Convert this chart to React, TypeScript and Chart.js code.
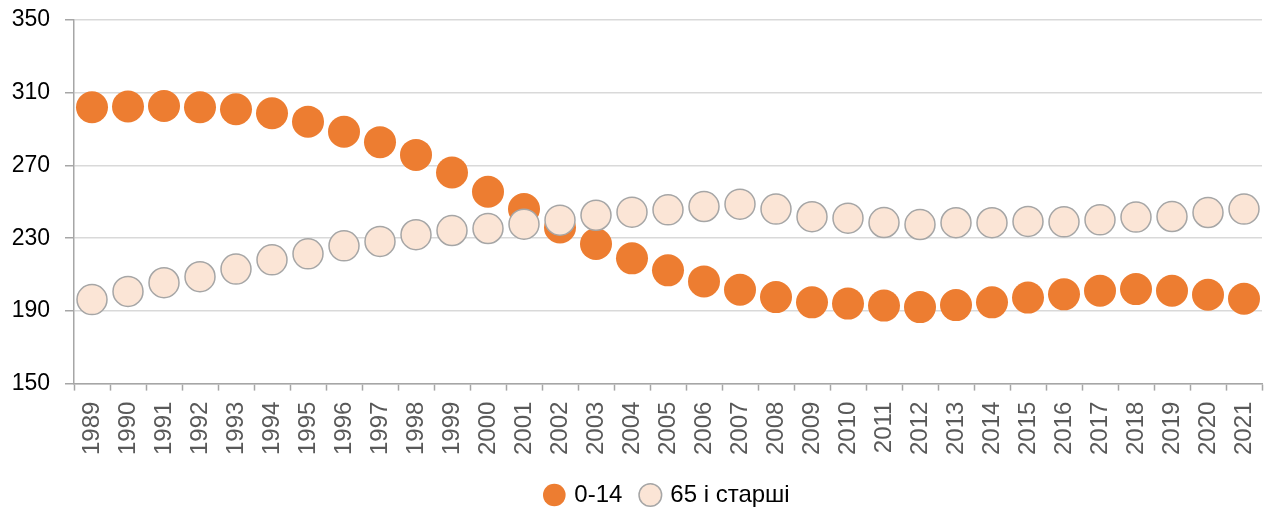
import React, { useEffect, useRef } from "react";
import { Chart, registerables } from "chart.js";

Chart.register(...registerables);

const years: string[] = [
  "1989","1990","1991","1992","1993","1994","1995","1996","1997","1998","1999",
  "2000","2001","2002","2003","2004","2005","2006","2007","2008","2009","2010",
  "2011","2012","2013","2014","2015","2016","2017","2018","2019","2020","2021",
];

const children014: number[] = [
  302, 302.4, 302.7, 302, 300.9, 298.7, 294.1, 288.5, 282.8, 275.8, 266.1,
  255.5, 246, 235.9, 226.8, 218.9, 212.3, 206.2, 201.6, 197.6, 194.7, 194,
  192.9, 192.1, 193.2, 194.7, 197.3, 199.1, 201.1, 202, 201.1, 198.9, 196.7,
];

const elderly65: number[] = [
  196.2, 200.7, 205.5, 208.8, 213, 218.1, 221.4, 225.8, 228.2, 231.9, 234.2,
  235.3, 237.7, 239.9, 242.6, 244.3, 245.6, 247.4, 248.7, 246, 241.8, 241,
  238.6, 237.5, 238.5, 238.5, 239.2, 239, 240.1, 241.6, 241.9, 244.1, 246,
];

const seriesNames: string[] = ["0-14", "65 і старші"];
const yMin = 150;
const yMax = 350;
const yStep = 40;

const FONT = "'Liberation Sans', Arial, sans-serif";

export default function App() {
  const ref = useRef<HTMLCanvasElement | null>(null);

  useEffect(() => {
    if (!ref.current) return;
    const chart = new Chart(ref.current, {
      type: "line",
      data: {
        labels: years,
        datasets: [
          {
            label: seriesNames[0],
            data: children014,
            showLine: false,
            pointRadius: 16,
            pointHoverRadius: 16,
            pointBackgroundColor: "#ED7D31",
            pointBorderColor: "#ED7D31",
            pointBorderWidth: 0,
            backgroundColor: "#ED7D31",
            borderColor: "#ED7D31",
            borderWidth: 0,
            pointStyle: "circle",
            order: 1,
            clip: false,
          },
          {
            label: seriesNames[1],
            data: elderly65,
            showLine: false,
            pointRadius: 15,
            pointHoverRadius: 15,
            pointBackgroundColor: "#FBE5D6",
            pointBorderColor: "#A6A6A6",
            pointBorderWidth: 1.5,
            backgroundColor: "#FBE5D6",
            borderColor: "#A6A6A6",
            borderWidth: 1.5,
            pointStyle: "circle",
            order: 0,
            clip: false,
          },
        ],
      },
      options: {
        animation: false,
        responsive: true,
        maintainAspectRatio: false,
        layout: { autoPadding: false, padding: { left: 8, right: 3, top: 20, bottom: -8 } },
        plugins: {
          tooltip: { enabled: false },
          legend: {
            position: "bottom",
            fullSize: false,
            labels: {
              sort: (a: any, b: any) => a.datasetIndex - b.datasetIndex,
              usePointStyle: true,
              pointStyle: "circle",
              boxWidth: 16,
              boxHeight: 16,
              padding: 20,
              color: "#000000",
              font: { family: FONT, size: 24 },
            },
          },
        },
        scales: {
          x: {
            offset: true,
            afterFit: (s: any) => {
              s.paddingLeft = 0;
              s.paddingRight = 0;
              s.height -= 3;
            },
            grid: {
              offset: true,
              drawOnChartArea: false,
              drawTicks: true,
              tickLength: 7,
              tickColor: "#A6A6A6",
              tickWidth: 1.5,
            },
            border: { color: "#A6A6A6", width: 1.5 },
            ticks: {
              minRotation: 90,
              maxRotation: 90,
              autoSkip: false,
              padding: 11,
              color: "#595959",
              font: { family: FONT, size: 24 },
            },
          },
          y: {
            min: yMin,
            max: yMax,
            afterFit: (s: any) => {
              s.width = 66;
              s.paddingTop = 0;
              s.paddingBottom = 0;
            },
            grid: {
              color: "#D9D9D9",
              lineWidth: 1.5,
              drawTicks: true,
              tickLength: 9,
              tickColor: "#A6A6A6",
            },
            border: { color: "#A6A6A6", width: 1.5 },
            ticks: {
              stepSize: yStep,
              padding: 15,
              color: "#000000",
              font: { family: FONT, size: 23 },
            },
          },
        },
      },
    });
    return () => chart.destroy();
  }, []);

  return (
    <div style={{ position: "fixed", left: 0, top: 0, width: 1265, height: 509, background: "#fff" }}>
      <canvas ref={ref} />
    </div>
  );
}
